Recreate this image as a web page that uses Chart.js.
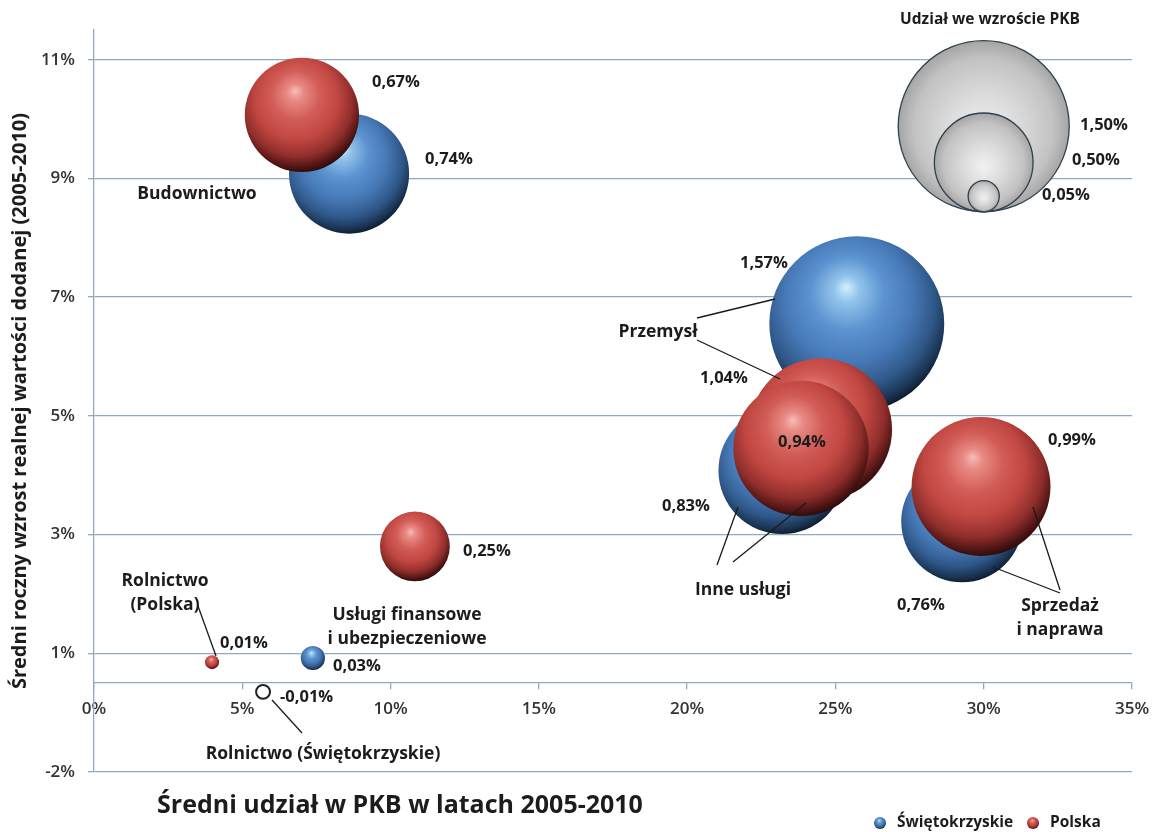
<!DOCTYPE html>
<html lang="pl">
<head>
<meta charset="utf-8">
<title>Udział sektorów we wzroście PKB 2005-2010</title>
<script src="https://cdn.jsdelivr.net/npm/chart.js@4.4.1/dist/chart.umd.min.js"></script>
<style>
  html, body { margin: 0; padding: 0; background: #ffffff; }
  #wrap { position: relative; width: 1152px; height: 832px; }
</style>
</head>
<body>
<div id="wrap"><canvas id="chart" width="1152" height="832"></canvas></div>
<script>
// Sektory gospodarki
const sectors = ['Budownictwo', 'Przemysł', 'Inne usługi', 'Sprzedaż i naprawa', 'Usługi finansowe i ubezpieczeniowe', 'Rolnictwo'];

// Średni udział w PKB w latach 2005-2010 (%)
const swietokrzyskieShareGdp = [8.60, 25.72, 23.20, 29.27, 7.38, 5.70];
const polskaShareGdp         = [7.01, 24.51, 23.84, 29.91, 10.82, 3.98];

// Średni roczny wzrost realnej wartości dodanej 2005-2010 (%)
const swietokrzyskieGrowth = [8.58, 6.05, 3.58, 2.72, 0.42, -0.15];
const polskaGrowth         = [9.57, 4.27, 3.95, 3.31, 2.30, 0.35];

// Udział we wzroście PKB (%) – wielkość bąbla
const swietokrzyskieContribution = [0.74, 1.57, 0.83, 0.76, 0.03, -0.01];
const polskaContribution         = [0.67, 1.04, 0.94, 0.99, 0.25, 0.01];

// Skala wielkości bąbli (klucz w prawym górnym rogu)
const keyContribution = [1.50, 0.50, 0.05];
const keyShareGdp     = [30, 30, 30];
const keyGrowth       = [9.38, 8.77, 8.20];

// Podziałka osi
const xTickStep   = 5;
const yTickValues = [-1.5, 0.5, 2.5, 4.5, 6.5, 8.5, 10.5];
const yTickLabels = ['-2%', '1%', '3%', '5%', '7%', '9%', '11%'];

// ---- wygląd ----
const FONT = "'Open Sans', 'DejaVu Sans', sans-serif";
const GRID = '#8fa9c2';
const TEXT = '#1c1c1c';
const BUBBLE_SCALE = 69.8; // px na pierwiastek z punktu procentowego

const BLUE = [[0, '#d2f0fc'], [0.12, '#92c4ea'], [0.35, '#5b92d0'], [0.6, '#4678b6'], [0.8, '#2f5889'], [0.93, '#1a3452'], [1, '#0d1a2b']];
const RED  = [[0, '#f8bcb8'], [0.12, '#e88a84'], [0.35, '#d25c57'], [0.6, '#c04641'], [0.8, '#8f2e2b'], [0.93, '#4f1514'], [1, '#2a0a0a']];
const GREY = [[0, '#f2f2f2'], [0.4, '#dcdcdc'], [0.8, '#c2c2c2'], [1, '#a2a2a2']];

function bubbleRadius(v) { return BUBBLE_SCALE * Math.sqrt(Math.abs(v)); }

function sphereGradient(c, cx, cy, r, stops) {
  const g = c.createRadialGradient(cx - 0.12 * r, cy - 0.42 * r, 0, cx - 0.08 * r, cy - 0.2 * r, 1.22 * r);
  stops.forEach(([o, col]) => g.addColorStop(o, col));
  return g;
}

// klucz wielkości: jaśniejszy środek, lekko poniżej centrum
function keyGradient(c, cx, cy, r, stops) {
  const g = c.createRadialGradient(cx, cy + 0.1 * r, 0, cx, cy, 1.02 * r);
  stops.forEach(([o, col]) => g.addColorStop(o, col));
  return g;
}

function sphereFill(stops, painter) {
  return (context) => {
    const chart = context.chart;
    const raw = context.raw;
    if (!raw || !chart.chartArea || !chart.scales.x) return stops[2][1];
    if (raw.v < 0) return '#ffffff';
    const cx = chart.scales.x.getPixelForValue(raw.x);
    const cy = chart.scales.y.getPixelForValue(raw.y);
    return (painter || sphereGradient)(chart.ctx, cx, cy, bubbleRadius(raw.v), stops);
  };
}

function points(xs, ys, vs) {
  return xs.map((x, i) => ({ x, y: ys[i], v: vs[i] }));
}

function fmtPct(v) { return v.toFixed(2).replace('.', ',') + '%'; }

// ---- opisy (położenie w pikselach) ----
const swietokrzyskieLabelPos = [[425, 159], [740, 263], [662, 506], [897, 605], [333, 666], [280, 697]];
const polskaLabelPos         = [[372, 82], [700, 378], [778, 442], [1048, 440], [463, 551], [220, 643]];
const keyLabelPos            = [[1080, 125], [1072, 160], [1042, 195]];

const sectorTexts = [
  { lines: ['Budownictwo'], x: 197, y: 194 },
  { lines: ['Przemysł'], x: 658, y: 332 },
  { lines: ['Inne usługi'], x: 743, y: 590 },
  { lines: ['Sprzedaż', 'i naprawa'], x: 1060, y: 606 },
  { lines: ['Usługi finansowe', 'i ubezpieczeniowe'], x: 407, y: 615 },
  { lines: ['Rolnictwo', '(Polska)'], x: 165, y: 581 },
  { lines: ['Rolnictwo (Świętokrzyskie)'], x: 323, y: 754 }
];

const leaderLines = [
  [697, 318, 775, 299], [697, 340, 780, 379],
  [717, 565, 738, 507], [733, 562, 806, 503],
  [1060, 590, 1033, 507], [1060, 593, 993, 567],
  [198, 606, 216, 656], [272, 700, 302, 733]
];

const annotations = {
  id: 'annotations',
  afterDatasetsDraw(chart) {
    const c = chart.ctx;
    c.save();
    c.strokeStyle = '#1a1a1a';
    c.lineWidth = 1.3;
    leaderLines.forEach(([x1, y1, x2, y2]) => {
      c.beginPath(); c.moveTo(x1, y1); c.lineTo(x2, y2); c.stroke();
    });

    c.fillStyle = TEXT;
    c.textBaseline = 'middle';
    c.textAlign = 'left';
    c.font = `bold 16.5px ${FONT}`;
    swietokrzyskieContribution.forEach((v, i) => c.fillText(fmtPct(v), swietokrzyskieLabelPos[i][0], swietokrzyskieLabelPos[i][1]));
    polskaContribution.forEach((v, i) => c.fillText(fmtPct(v), polskaLabelPos[i][0], polskaLabelPos[i][1]));
    keyContribution.forEach((v, i) => c.fillText(fmtPct(v), keyLabelPos[i][0], keyLabelPos[i][1]));

    c.textAlign = 'center';
    c.font = `bold 17.5px ${FONT}`;
    sectorTexts.forEach(t => t.lines.forEach((line, k) => c.fillText(line, t.x, t.y + k * 24)));

    c.font = `bold 15.5px ${FONT}`;
    c.fillText('Udział we wzroście PKB', 990, 20);
    c.restore();
  },
  afterDraw(chart) {
    const c = chart.ctx;
    c.save();
    c.fillStyle = TEXT;
    c.textBaseline = 'middle';
    c.textAlign = 'center';
    c.font = `bold 25px ${FONT}`;
    c.fillText('Średni udział w PKB w latach 2005-2010', 400, 806);

    // legenda serii
    const items = [
      { label: chart.data.datasets[0].label, stops: BLUE, x: 880 },
      { label: chart.data.datasets[1].label, stops: RED, x: 1033 }
    ];
    c.textAlign = 'left';
    c.font = `bold 15.5px ${FONT}`;
    items.forEach(it => {
      const r = 6, cy = 823;
      c.beginPath();
      c.arc(it.x, cy, r, 0, Math.PI * 2);
      c.fillStyle = sphereGradient(c, it.x, cy, r, it.stops);
      c.fill();
      c.fillStyle = TEXT;
      c.fillText(it.label, it.x + 17, cy);
    });
    c.restore();
  }
};

new Chart(document.getElementById('chart'), {
  type: 'bubble',
  data: {
    datasets: [
      {
        label: 'Świętokrzyskie',
        data: points(swietokrzyskieShareGdp, swietokrzyskieGrowth, swietokrzyskieContribution),
        order: 2,
        radius: ctx => bubbleRadius(ctx.raw.v),
        backgroundColor: sphereFill(BLUE),
        borderColor: ctx => (ctx.raw && ctx.raw.v < 0 ? '#222222' : 'rgba(0,0,0,0)'),
        borderWidth: ctx => (ctx.raw && ctx.raw.v < 0 ? 2 : 0),
        clip: false
      },
      {
        label: 'Polska',
        data: points(polskaShareGdp, polskaGrowth, polskaContribution),
        order: 1,
        radius: ctx => bubbleRadius(ctx.raw.v),
        backgroundColor: sphereFill(RED),
        borderWidth: 0,
        clip: false
      },
      {
        label: 'Udział we wzroście PKB',
        data: points(keyShareGdp, keyGrowth, keyContribution),
        order: 3,
        radius: ctx => bubbleRadius(ctx.raw.v),
        backgroundColor: sphereFill(GREY, keyGradient),
        borderColor: '#2e414d',
        borderWidth: 1.3,
        clip: false
      }
    ]
  },
  options: {
    responsive: false,
    animation: false,
    events: [],
    layout: { autoPadding: false, padding: { top: 30, right: 20, bottom: 60, left: 0 } },
    plugins: {
      legend: { display: false },
      tooltip: { enabled: false }
    },
    scales: {
      x: {
        type: 'linear',
        min: 0,
        max: 35,
        position: { y: 0 },
        afterFit: scale => { scale.paddingLeft = 0; scale.paddingRight = 0; },
        ticks: {
          stepSize: xTickStep,
          callback: v => v + '%',
          font: { family: FONT, size: 17, weight: '600' },
          color: '#333333',
          padding: 10,
          maxRotation: 0
        },
        grid: { drawOnChartArea: false, drawTicks: true, tickLength: 6, color: GRID, lineWidth: 1.3 },
        border: { display: true, color: GRID, width: 1.3 }
      },
      y: {
        type: 'linear',
        min: -1.5,
        max: 11,
        afterBuildTicks: scale => { scale.ticks = yTickValues.map(value => ({ value })); },
        afterFit: scale => { scale.width = 94; },
        ticks: {
          callback: (v, i) => yTickLabels[i],
          font: { family: FONT, size: 17, weight: '600' },
          color: '#333333',
          padding: 13
        },
        grid: { color: GRID, tickLength: 6, lineWidth: 1.3 },
        border: { display: true, color: GRID, width: 1.3 },
        title: {
          display: true,
          text: 'Średni roczny wzrost realnej wartości dodanej (2005-2010)',
          font: { family: FONT, size: 20, weight: 'bold' },
          color: TEXT,
          padding: { top: 8, bottom: 0 }
        }
      }
    }
  },
  plugins: [annotations]
});
</script>
</body>
</html>
